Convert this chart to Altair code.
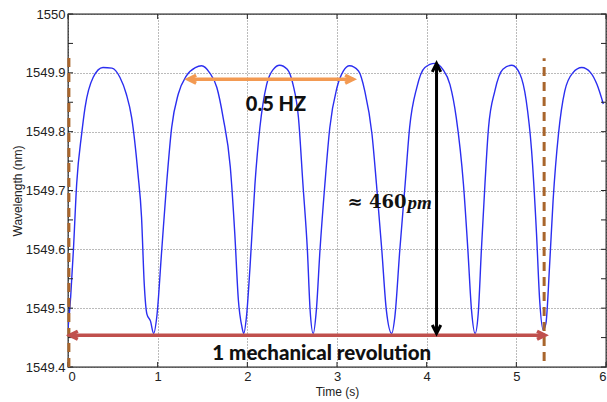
import altair as alt
import pandas as pd

# ---- data ----
time_s = [0.00, 0.03, 0.06, 0.097, 0.153, 0.19, 0.28, 0.39, 0.49, 0.58, 0.65, 0.71, 0.78, 0.82,
          0.85, 0.88, 0.92, 0.955, 0.99, 1.045, 1.10, 1.156, 1.23, 1.32, 1.42, 1.49, 1.58, 1.66,
          1.73, 1.81, 1.86, 1.90, 1.94, 1.96, 1.99, 2.03, 2.085, 2.14, 2.215, 2.29, 2.36, 2.445,
          2.51, 2.57, 2.62, 2.67, 2.70, 2.735, 2.77, 2.81, 2.865, 2.92, 3.00, 3.07, 3.14, 3.24,
          3.31, 3.39, 3.44, 3.50, 3.55, 3.61, 3.645, 3.70, 3.76, 3.81, 3.89, 3.98, 4.09, 4.18,
          4.26, 4.33, 4.41, 4.46, 4.50, 4.54, 4.575, 4.61, 4.65, 4.69, 4.76, 4.85, 4.95, 5.04,
          5.11, 5.17, 5.225, 5.26, 5.30, 5.33, 5.37, 5.41, 5.47, 5.54, 5.63, 5.73, 5.83, 5.90, 5.97]
wavelength_nm = [1549.465, 1549.52, 1549.598, 1549.712, 1549.797, 1549.841, 1549.892, 1549.909,
                 1549.908, 1549.892, 1549.864, 1549.824, 1549.729, 1549.655, 1549.542, 1549.490,
                 1549.478, 1549.457, 1549.485, 1549.598, 1549.712, 1549.807, 1549.864, 1549.895,
                 1549.909, 1549.912, 1549.900, 1549.875, 1549.824, 1549.740, 1549.627, 1549.514,
                 1549.468, 1549.457, 1549.485, 1549.570, 1549.711, 1549.807, 1549.880, 1549.906,
                 1549.913, 1549.906, 1549.880, 1549.824, 1549.711, 1549.598, 1549.497, 1549.457,
                 1549.497, 1549.598, 1549.711, 1549.807, 1549.875, 1549.903, 1549.912, 1549.903,
                 1549.869, 1549.796, 1549.711, 1549.598, 1549.497, 1549.457, 1549.485, 1549.598,
                 1549.711, 1549.807, 1549.875, 1549.909, 1549.916, 1549.906, 1549.880, 1549.824,
                 1549.711, 1549.598, 1549.497, 1549.457, 1549.491, 1549.598, 1549.711, 1549.807,
                 1549.869, 1549.906, 1549.913, 1549.898, 1549.853, 1549.768, 1549.627, 1549.514,
                 1549.463, 1549.474, 1549.570, 1549.683, 1549.796, 1549.869, 1549.900, 1549.909,
                 1549.900, 1549.880, 1549.847]

x_tick_values = [0, 1, 2, 3, 4, 5, 6]
y_tick_values = [1549.4, 1549.5, 1549.6, 1549.7, 1549.8, 1549.9, 1550.0]
y_minor_values = [1549.4, 1549.45, 1549.5, 1549.55, 1549.6, 1549.65, 1549.7, 1549.75,
                  1549.8, 1549.85, 1549.9, 1549.95, 1550.0]

# annotation values (data coordinates)
rev_marks_t = [0.01, 5.31]
rev_marks_w_low = [1549.40, 1549.41]
rev_marks_w_high = [1549.934, 1549.925]

freq_arrow_t = [1.34, 3.18]
freq_arrow_w = 1549.889
rev_arrow_t = [0.02, 5.32]
rev_arrow_w = 1549.454
amp_arrow_t = 4.11
amp_arrow_w = [1549.457, 1549.916]

W, H = 538, 353
xs = alt.Scale(domain=[0, 6], nice=False, zero=False)
ys = alt.Scale(domain=[1549.4, 1550.0], nice=False, zero=False)

x_axis = alt.Axis(values=x_tick_values, title="Time (s)", titleY=19, titleBaseline="top")
y_axis = alt.Axis(values=y_tick_values, title="Wavelength (nm)", titleX=-44, titleY=H / 2,
                  labelExpr="datum.value >= 1549.99 ? '1550' : format(datum.value, '.1f')")

X = lambda f="t": alt.X(f"{f}:Q", scale=xs, axis=x_axis)
Y = lambda f="w": alt.Y(f"{f}:Q", scale=ys, axis=y_axis)

curve_df = pd.DataFrame({"t": time_s, "w": wavelength_nm})

curve = alt.Chart(curve_df).mark_line(
    color="#2b2ef0", strokeWidth=1.4, interpolate="monotone", clip=True
).encode(x=X(), y=Y())

# inward tick marks (MATLAB style)
ydf = pd.DataFrame({"w": y_minor_values})
xdf = pd.DataFrame({"t": x_tick_values})
tick_style = dict(color="#222", strokeWidth=1)
ticks_left = alt.Chart(ydf).mark_rule(**tick_style).encode(y=Y(), x=alt.value(0), x2=alt.value(5))
ticks_right = alt.Chart(ydf).mark_rule(**tick_style).encode(y=Y(), x=alt.value(W), x2=alt.value(W - 5))
ticks_bottom = alt.Chart(xdf).mark_rule(**tick_style).encode(x=X(), y=alt.value(H), y2=alt.value(H - 5))
ticks_top = alt.Chart(xdf).mark_rule(**tick_style).encode(x=X(), y=alt.value(0), y2=alt.value(5))

# dashed revolution markers
dash_df = pd.DataFrame({"t": rev_marks_t, "w": rev_marks_w_low, "w2": rev_marks_w_high})
dashes = alt.Chart(dash_df).mark_rule(color="#a8652c", strokeWidth=3, strokeDash=[9, 6]).encode(
    x=X(), y=Y(), y2="w2:Q")

# helper for arrows
def head(df, shape, color, width, size):
    return alt.Chart(df).mark_point(
        shape=shape, size=size, filled=False, color=color, strokeWidth=width,
        opacity=1, strokeJoin="miter").encode(x=X(), y=Y())

def h_arrow(ts, w, color, width, size):
    df = pd.DataFrame({"t": ts, "w": [w, w]})
    line = alt.Chart(df).mark_line(color=color, strokeWidth=width).encode(x=X(), y=Y())
    return [line,
            head(df.iloc[[0]], "M2,-1L0,0L2,1", color, width, size),
            head(df.iloc[[1]], "M-2,-1L0,0L-2,1", color, width, size)]

def v_arrow(t, ws, color, width, size):
    df = pd.DataFrame({"t": [t, t], "w": ws})
    line = alt.Chart(df).mark_line(color=color, strokeWidth=width).encode(x=X(), y=Y())
    return [line,
            head(df.iloc[[0]], "M-1,-2L0,0L1,-2", color, width, size),
            head(df.iloc[[1]], "M-1,2L0,0L1,2", color, width, size)]

freq_arrow = h_arrow(freq_arrow_t, freq_arrow_w, "#f39a52", 3.5, 64)
rev_arrow = h_arrow(rev_arrow_t, rev_arrow_w, "#c0504d", 3.5, 64)
amp_arrow = v_arrow(amp_arrow_t, amp_arrow_w, "#000000", 3, 72)

# text annotations
def label(text, t, w, font, size, weight="bold", style="normal", align="center"):
    df = pd.DataFrame({"t": [t], "w": [w], "txt": [text]})
    return alt.Chart(df).mark_text(font=font, fontSize=size, fontWeight=weight, fontStyle=style,
                                   align=align, baseline="middle", color="#111").encode(
        x=X(), y=Y(), text="txt:N")

txt_freq = label("0.5 HZ", 2.32, 1549.845, "Lato", 20, weight=900)
txt_rev = label("1 mechanical revolution", 2.83, 1549.422, "Lato", 20.5, weight=900)
txt_amp1 = label("≈ 460", 3.775, 1549.678, "DejaVu Serif", 18, align="right")
txt_amp2 = label("pm", 3.785, 1549.678, "Liberation Serif", 19, style="italic", align="left")

chart = alt.layer(
    curve, ticks_left, ticks_right, ticks_bottom, ticks_top, dashes,
    *freq_arrow, *rev_arrow, *amp_arrow,
    txt_freq, txt_rev, txt_amp1, txt_amp2,
).properties(
    width=W, height=H,
    padding={"left": 68, "top": 14, "right": 1, "bottom": 35},
    autosize=alt.AutoSizeParams(type="none"),
    background="white",
).configure_view(
    stroke="#222", strokeWidth=1.3
).configure_axis(
    labelFont="Liberation Sans", labelFontSize=13, labelColor="#222", labelPadding=3,
    titleFont="Liberation Sans", titleFontSize=12, titleFontWeight="normal", titleColor="#222",
    grid=True, gridColor="#777", gridDash=[1, 2], gridWidth=1, ticks=False, domain=False,
)

chart.save("out.html", embed_options={"renderer": "svg", "actions": False})
